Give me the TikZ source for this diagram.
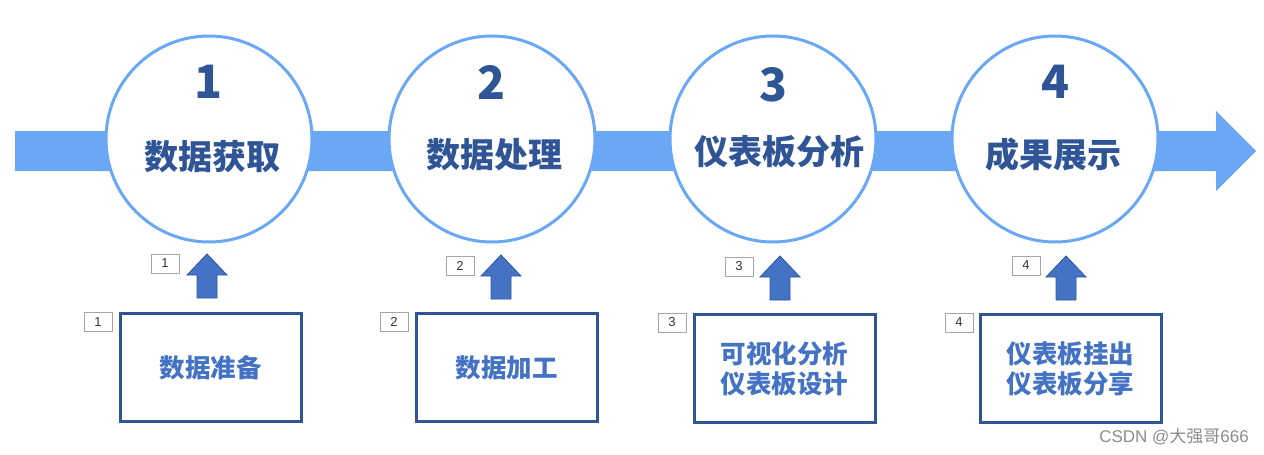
\documentclass[tikz,border=0pt]{standalone}
\usepackage{fontspec}
\newfontfamily\cjk{Noto Sans CJK SC}
\newfontfamily\lat{Liberation Sans}
\definecolor{band}{RGB}{106,168,245}
\definecolor{dark}{RGB}{47,85,151}
\definecolor{mid}{RGB}{68,114,196}
\begin{document}
\begin{tikzpicture}[x=1pt,y=-1pt,
  stepcircle/.style={circle,draw=band,line width=3pt,fill=white,minimum size=206pt,inner sep=0pt},
  numtext/.style={font=\cjk\bfseries\fontsize{46}{50}\selectfont,text=dark,inner sep=0pt},
  titletext/.style={font=\cjk\bfseries\fontsize{34}{40}\selectfont,text=dark,inner sep=0pt},
  taskbox/.style={draw=dark,line width=3pt,minimum width=181pt,minimum height=108pt,inner sep=0pt,
    font=\cjk\bfseries\fontsize{25.5}{30}\selectfont,text=mid,align=center},
  tag/.style={draw=black!35,line width=0.6pt,minimum width=28pt,minimum height=19pt,inner sep=0pt,
    font=\lat\fontsize{13}{14}\selectfont,text=black!80},
  uparrow/.style={fill=mid,draw=dark,line width=0.8pt,line join=miter}
]
\useasboundingbox (0,0) rectangle (1264,455);
% main band arrow
\fill[band] (15,131) -- (1216,131) -- (1216,111) -- (1256,151) -- (1216,191) -- (1216,171) -- (15,171) -- cycle;
% circles
\node[stepcircle] (c1) at (209,139) {};
\node[stepcircle] (c2) at (492,139) {};
\node[stepcircle] (c3) at (773,139) {};
\node[stepcircle] (c4) at (1055,139) {};
\node[numtext] (n1) at (209,82) {1};
\node[numtext] (n2) at (492,82) {2};
\node[numtext] (n3) at (773,85) {3};
\node[numtext] (n4) at (1055,82) {4};
\node[titletext] (t1) at (212,157) {数据获取};
\node[titletext] (t2) at (494,155) {数据处理};
\node[titletext] (t3) at (779,152) {仪表板分析};
\node[titletext] (t4) at (1053,155) {成果展示};
% up arrows
\foreach \cx/\ty in {207/254, 501/255, 780/256, 1066/256}{
  \path[uparrow] (\cx,\ty+44) -- ++(-10,0) -- ++(0,-23) -- ++(-10,0) -- ++(20,-21) -- ++(20,21) -- ++(-10,0) -- ++(0,23) -- cycle;
}
% boxes
\node[taskbox] (b1) at (210.5,367.5) {数据准备};
\node[taskbox] (b2) at (506.5,367.5) {数据加工};
\node[taskbox] (b3) at (784.5,368.5) {可视化分析\\仪表板设计};
\node[taskbox] (b4) at (1070.5,368.5) {仪表板挂出\\仪表板分享};
% tags
\node[tag] (ta1) at (165,263.5) {1};
\node[tag] (tb1) at (98,322) {1};
\node[tag] (ta2) at (460,265.5) {2};
\node[tag] (tb2) at (394,322) {2};
\node[tag] (ta3) at (739,266.5) {3};
\node[tag] (tb3) at (672,322.5) {3};
\node[tag] (ta4) at (1026,265.5) {4};
\node[tag] (tb4) at (959,322.5) {4};
% watermark
\node[font=\fontsize{17}{20}\selectfont,text=black!45,inner sep=0pt] (wm) at (1174,437) {\lat CSDN @\cjk 大强哥\lat 666};
\end{tikzpicture}
\end{document}
